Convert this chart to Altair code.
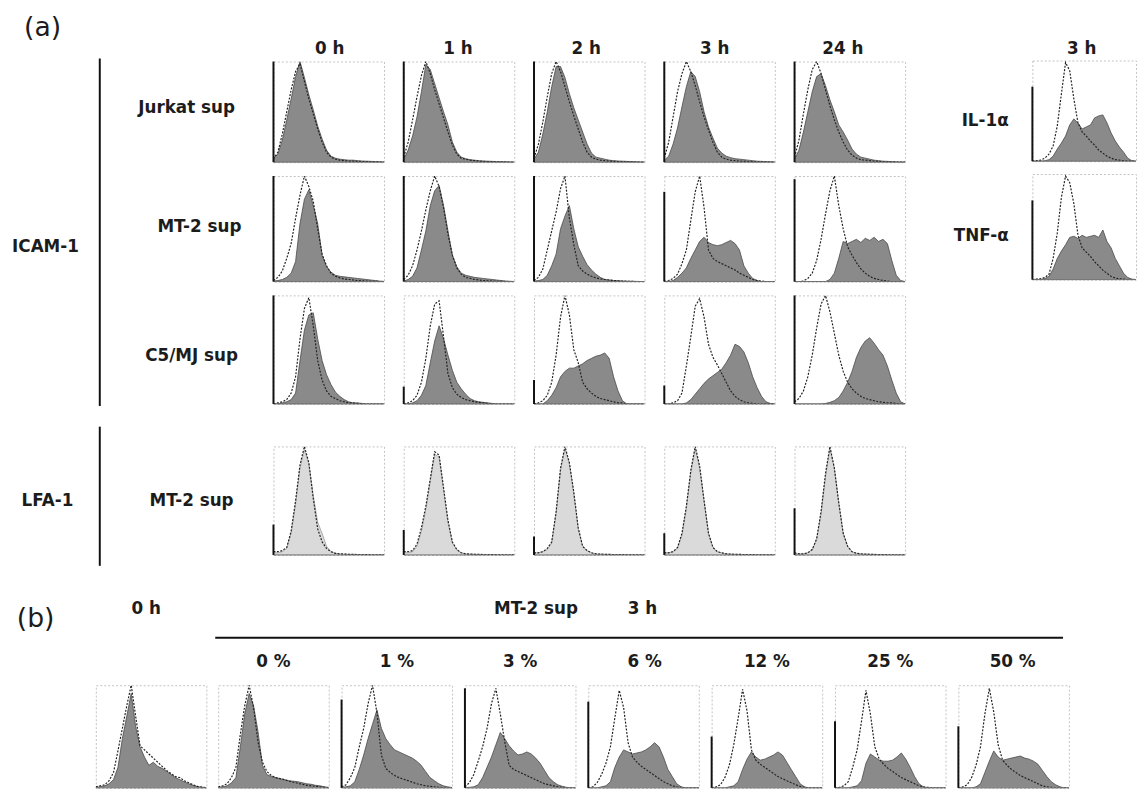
import altair as alt
import pandas as pd

# ---------------- data (fractions of panel height, 26 channels) ----------------
CH = list(range(26))

A_TIMES = ["0 h", "1 h", "2 h", "3 h", "24 h"]
B_DOSES = ["0 %", "1 %", "3 %", "6 %", "12 %", "25 %", "50 %"]

# Row 1: ICAM-1, Jurkat sup
J0_FILL = [0.04, 0.08, 0.22, 0.42, 0.63, 0.85, 1.0, 0.84, 0.67, 0.52, 0.36, 0.23, 0.12, 0.06, 0.04, 0.03, 0.025, 0.02, 0.02, 0.015, 0.012, 0.01, 0.008, 0.006, 0.004, 0.002]
J0_CTRL = [0.03, 0.1, 0.28, 0.5, 0.72, 0.9, 0.98, 0.8, 0.63, 0.48, 0.33, 0.2, 0.1, 0.05, 0.03, 0.02, 0.015, 0.012, 0.01, 0.008, 0.006, 0.005, 0.004, 0.003, 0.002, 0.001]
J1_FILL = [0.03, 0.12, 0.26, 0.45, 0.7, 0.97, 0.92, 0.78, 0.64, 0.5, 0.37, 0.2, 0.1, 0.05, 0.035, 0.025, 0.02, 0.015, 0.012, 0.01, 0.008, 0.006, 0.005, 0.004, 0.002, 0.001]
J1_CTRL = [0.05, 0.2, 0.42, 0.65, 0.86, 1.0, 0.88, 0.72, 0.58, 0.44, 0.3, 0.17, 0.08, 0.04, 0.03, 0.02, 0.015, 0.01, 0.008, 0.006, 0.005, 0.004, 0.003, 0.002, 0.001, 0.0]
J2_FILL = [0.03, 0.1, 0.28, 0.5, 0.75, 0.95, 0.95, 0.84, 0.68, 0.54, 0.42, 0.3, 0.18, 0.09, 0.05, 0.04, 0.03, 0.02, 0.015, 0.012, 0.01, 0.008, 0.006, 0.004, 0.002, 0.001]
J2_CTRL = [0.04, 0.18, 0.4, 0.65, 0.88, 1.0, 0.9, 0.75, 0.6, 0.46, 0.33, 0.2, 0.1, 0.05, 0.03, 0.02, 0.015, 0.01, 0.008, 0.006, 0.005, 0.004, 0.003, 0.002, 0.001, 0.0]
J3_FILL = [0.02, 0.06, 0.18, 0.34, 0.55, 0.75, 0.9, 0.85, 0.7, 0.5, 0.35, 0.24, 0.14, 0.09, 0.06, 0.045, 0.035, 0.03, 0.025, 0.02, 0.015, 0.01, 0.008, 0.006, 0.004, 0.002]
J3_CTRL = [0.04, 0.2, 0.45, 0.7, 0.88, 1.0, 0.9, 0.76, 0.6, 0.45, 0.32, 0.2, 0.1, 0.05, 0.03, 0.02, 0.015, 0.01, 0.008, 0.006, 0.005, 0.004, 0.003, 0.002, 0.001, 0.0]
J24_FILL = [0.03, 0.12, 0.3, 0.5, 0.7, 0.85, 0.88, 0.76, 0.62, 0.5, 0.37, 0.3, 0.22, 0.13, 0.08, 0.05, 0.04, 0.03, 0.02, 0.015, 0.01, 0.008, 0.005, 0.003, 0.002, 0.001]
J24_CTRL = [0.05, 0.22, 0.48, 0.72, 0.92, 1.0, 0.88, 0.72, 0.56, 0.42, 0.3, 0.2, 0.12, 0.07, 0.04, 0.025, 0.02, 0.015, 0.01, 0.008, 0.005, 0.004, 0.003, 0.002, 0.001, 0.0]

# Row 2: ICAM-1, MT-2 sup
M0_FILL = [0.005, 0.01, 0.02, 0.04, 0.08, 0.19, 0.55, 0.78, 0.87, 0.72, 0.55, 0.25, 0.14, 0.09, 0.06, 0.05, 0.045, 0.04, 0.035, 0.03, 0.025, 0.02, 0.015, 0.01, 0.005, 0.002]
M0_CTRL = [0.01, 0.04, 0.1, 0.22, 0.36, 0.6, 0.82, 1.0, 0.9, 0.76, 0.5, 0.26, 0.15, 0.08, 0.05, 0.035, 0.025, 0.02, 0.015, 0.01, 0.008, 0.005, 0.003, 0.002, 0.001, 0.0]
M1_FILL = [0.005, 0.02, 0.05, 0.13, 0.3, 0.48, 0.72, 0.86, 0.91, 0.72, 0.48, 0.25, 0.14, 0.08, 0.06, 0.05, 0.04, 0.035, 0.03, 0.025, 0.02, 0.015, 0.01, 0.006, 0.003, 0.001]
M1_CTRL = [0.02, 0.06, 0.15, 0.3, 0.48, 0.68, 0.86, 1.0, 0.9, 0.7, 0.45, 0.25, 0.13, 0.07, 0.04, 0.03, 0.02, 0.015, 0.01, 0.008, 0.005, 0.003, 0.002, 0.001, 0.0, 0.0]
M2_FILL = [0.005, 0.01, 0.02, 0.06, 0.15, 0.26, 0.5, 0.62, 0.72, 0.5, 0.33, 0.24, 0.16, 0.11, 0.07, 0.04, 0.02, 0.015, 0.01, 0.008, 0.006, 0.004, 0.003, 0.002, 0.001, 0.0]
M2_CTRL = [0.01, 0.04, 0.12, 0.3, 0.48, 0.66, 0.88, 1.0, 0.6, 0.35, 0.15, 0.1, 0.07, 0.05, 0.035, 0.025, 0.02, 0.015, 0.01, 0.008, 0.005, 0.003, 0.002, 0.001, 0.0, 0.0]
M3_FILL = [0.0, 0.0, 0.01, 0.04, 0.08, 0.13, 0.22, 0.3, 0.38, 0.42, 0.37, 0.35, 0.34, 0.35, 0.37, 0.39, 0.36, 0.3, 0.15, 0.08, 0.03, 0.01, 0.0, 0.0, 0.0, 0.0]
M3_CTRL = [0.0, 0.01, 0.03, 0.07, 0.17, 0.3, 0.58, 0.85, 1.0, 0.7, 0.3, 0.22, 0.19, 0.17, 0.15, 0.13, 0.11, 0.08, 0.06, 0.04, 0.02, 0.01, 0.005, 0.0, 0.0, 0.0]
M24_FILL = [0.0, 0.0, 0.0, 0.0, 0.0, 0.0, 0.0, 0.0, 0.02, 0.08, 0.22, 0.38, 0.36, 0.38, 0.4, 0.37, 0.41, 0.39, 0.42, 0.38, 0.4, 0.36, 0.2, 0.06, 0.01, 0.0]
M24_CTRL = [0.0, 0.0, 0.005, 0.03, 0.08, 0.2, 0.4, 0.64, 0.86, 1.0, 0.72, 0.5, 0.33, 0.25, 0.18, 0.12, 0.08, 0.05, 0.03, 0.02, 0.01, 0.005, 0.0, 0.0, 0.0, 0.0]

# Row 3: ICAM-1, C5/MJ sup
C0_FILL = [0.0, 0.0, 0.01, 0.02, 0.04, 0.1, 0.4, 0.68, 0.82, 0.84, 0.6, 0.4, 0.27, 0.18, 0.11, 0.07, 0.04, 0.02, 0.01, 0.01, 0.005, 0.0, 0.0, 0.0, 0.0, 0.0]
C0_CTRL = [0.0, 0.01, 0.02, 0.04, 0.1, 0.25, 0.6, 0.88, 0.98, 0.72, 0.4, 0.22, 0.12, 0.07, 0.05, 0.03, 0.02, 0.01, 0.01, 0.005, 0.0, 0.0, 0.0, 0.0, 0.0, 0.0]
C1_FILL = [0.0, 0.0, 0.01, 0.03, 0.08, 0.17, 0.38, 0.58, 0.72, 0.6, 0.45, 0.31, 0.2, 0.14, 0.09, 0.05, 0.03, 0.02, 0.015, 0.01, 0.005, 0.0, 0.0, 0.0, 0.0, 0.0]
C1_CTRL = [0.0, 0.01, 0.03, 0.08, 0.2, 0.42, 0.72, 0.92, 0.95, 0.62, 0.28, 0.15, 0.09, 0.06, 0.04, 0.03, 0.02, 0.015, 0.01, 0.005, 0.0, 0.0, 0.0, 0.0, 0.0, 0.0]
C2_FILL = [0.0, 0.0, 0.0, 0.03, 0.08, 0.15, 0.25, 0.3, 0.33, 0.33, 0.35, 0.37, 0.4, 0.42, 0.44, 0.45, 0.47, 0.42, 0.25, 0.12, 0.03, 0.0, 0.0, 0.0, 0.0, 0.0]
C2_CTRL = [0.0, 0.01, 0.03, 0.08, 0.2, 0.45, 0.8, 1.0, 0.82, 0.5, 0.38, 0.2, 0.14, 0.1, 0.07, 0.05, 0.04, 0.03, 0.02, 0.01, 0.01, 0.0, 0.0, 0.0, 0.0, 0.0]
C3_FILL = [0.0, 0.0, 0.0, 0.0, 0.0, 0.01, 0.04, 0.09, 0.14, 0.19, 0.23, 0.26, 0.29, 0.32, 0.38, 0.45, 0.55, 0.53, 0.48, 0.38, 0.25, 0.15, 0.07, 0.02, 0.005, 0.0]
C3_CTRL = [0.0, 0.0, 0.01, 0.03, 0.1, 0.35, 0.62, 0.9, 0.97, 0.8, 0.55, 0.43, 0.36, 0.28, 0.2, 0.12, 0.07, 0.04, 0.02, 0.01, 0.005, 0.0, 0.0, 0.0, 0.0, 0.0]
C24_FILL = [0.0, 0.0, 0.0, 0.0, 0.0, 0.0, 0.0, 0.005, 0.015, 0.03, 0.06, 0.12, 0.2, 0.3, 0.43, 0.52, 0.58, 0.61, 0.56, 0.5, 0.45, 0.35, 0.22, 0.1, 0.02, 0.0]
C24_CTRL = [0.02, 0.05, 0.12, 0.25, 0.45, 0.7, 0.92, 1.0, 0.85, 0.65, 0.45, 0.3, 0.2, 0.14, 0.1, 0.07, 0.05, 0.04, 0.03, 0.02, 0.015, 0.01, 0.01, 0.005, 0.0, 0.0]

# Row 4: LFA-1, MT-2 sup
L0_FILL = [0.02, 0.02, 0.03, 0.06, 0.2, 0.47, 0.8, 0.97, 0.84, 0.55, 0.3, 0.2, 0.08, 0.03, 0.015, 0.01, 0.008, 0.006, 0.005, 0.004, 0.003, 0.003, 0.002, 0.002, 0.001, 0.001]
L0_CTRL = [0.03, 0.03, 0.04, 0.07, 0.22, 0.5, 0.83, 1.0, 0.85, 0.52, 0.24, 0.12, 0.06, 0.03, 0.015, 0.01, 0.008, 0.006, 0.005, 0.004, 0.003, 0.003, 0.002, 0.002, 0.001, 0.001]
L1_FILL = [0.02, 0.02, 0.03, 0.08, 0.22, 0.42, 0.68, 0.93, 0.9, 0.6, 0.3, 0.11, 0.05, 0.02, 0.01, 0.008, 0.006, 0.005, 0.004, 0.003, 0.003, 0.002, 0.002, 0.001, 0.001, 0.0]
L1_CTRL = [0.03, 0.03, 0.04, 0.1, 0.25, 0.45, 0.7, 0.95, 0.92, 0.62, 0.32, 0.12, 0.05, 0.02, 0.01, 0.008, 0.006, 0.005, 0.004, 0.003, 0.003, 0.002, 0.002, 0.001, 0.001, 0.0]
L2_FILL = [0.02, 0.02, 0.03, 0.05, 0.11, 0.38, 0.78, 0.98, 0.84, 0.56, 0.24, 0.08, 0.04, 0.02, 0.01, 0.008, 0.006, 0.005, 0.004, 0.003, 0.003, 0.002, 0.002, 0.001, 0.001, 0.0]
L2_CTRL = [0.02, 0.02, 0.03, 0.06, 0.12, 0.4, 0.8, 1.0, 0.85, 0.58, 0.25, 0.08, 0.04, 0.02, 0.01, 0.008, 0.006, 0.005, 0.004, 0.003, 0.003, 0.002, 0.002, 0.001, 0.001, 0.0]
L3_FILL = [0.02, 0.02, 0.03, 0.06, 0.18, 0.43, 0.76, 0.98, 0.8, 0.5, 0.2, 0.07, 0.03, 0.02, 0.01, 0.008, 0.006, 0.005, 0.004, 0.003, 0.003, 0.002, 0.002, 0.001, 0.001, 0.0]
L3_CTRL = [0.02, 0.02, 0.03, 0.07, 0.2, 0.45, 0.78, 1.0, 0.82, 0.5, 0.2, 0.07, 0.03, 0.02, 0.01, 0.008, 0.006, 0.005, 0.004, 0.003, 0.003, 0.002, 0.002, 0.001, 0.001, 0.0]
L24_FILL = [0.01, 0.01, 0.01, 0.02, 0.05, 0.14, 0.38, 0.72, 0.98, 0.8, 0.48, 0.2, 0.08, 0.03, 0.015, 0.01, 0.008, 0.006, 0.005, 0.004, 0.003, 0.002, 0.002, 0.001, 0.001, 0.0]
L24_CTRL = [0.02, 0.01, 0.01, 0.02, 0.05, 0.15, 0.4, 0.75, 1.0, 0.8, 0.48, 0.2, 0.08, 0.03, 0.015, 0.01, 0.008, 0.006, 0.005, 0.004, 0.003, 0.002, 0.002, 0.001, 0.001, 0.0]

# Right column: 3 h cytokines
IL_FILL = [0.0, 0.0, 0.0, 0.005, 0.015, 0.05, 0.12, 0.18, 0.25, 0.36, 0.42, 0.38, 0.32, 0.34, 0.36, 0.43, 0.45, 0.46, 0.38, 0.28, 0.2, 0.14, 0.09, 0.03, 0.005, 0.0]
IL_CTRL = [0.0, 0.005, 0.01, 0.03, 0.07, 0.15, 0.35, 0.67, 0.98, 0.9, 0.62, 0.38, 0.29, 0.25, 0.2, 0.16, 0.11, 0.08, 0.05, 0.03, 0.015, 0.01, 0.005, 0.0, 0.0, 0.0]
TNF_FILL = [0.0, 0.0, 0.0, 0.01, 0.03, 0.1, 0.2, 0.27, 0.33, 0.4, 0.41, 0.39, 0.42, 0.4, 0.41, 0.42, 0.4, 0.47, 0.36, 0.3, 0.2, 0.13, 0.06, 0.02, 0.005, 0.0]
TNF_CTRL = [0.0, 0.005, 0.01, 0.02, 0.05, 0.2, 0.44, 0.78, 0.98, 0.92, 0.72, 0.42, 0.3, 0.26, 0.22, 0.17, 0.13, 0.09, 0.06, 0.03, 0.015, 0.008, 0.004, 0.0, 0.0, 0.0]

# Panel (b): 0 h and MT-2 sup 3 h at 0-50 %
B0_FILL = [0.005, 0.01, 0.02, 0.04, 0.08, 0.2, 0.48, 0.7, 0.92, 0.6, 0.4, 0.3, 0.22, 0.25, 0.21, 0.19, 0.16, 0.13, 0.1, 0.08, 0.06, 0.04, 0.025, 0.012, 0.006, 0.002]
B0_CTRL = [0.01, 0.02, 0.03, 0.07, 0.15, 0.36, 0.58, 0.8, 1.0, 0.7, 0.41, 0.37, 0.33, 0.29, 0.25, 0.21, 0.17, 0.14, 0.11, 0.1, 0.07, 0.05, 0.03, 0.015, 0.008, 0.003]
P0_FILL = [0.005, 0.01, 0.02, 0.05, 0.1, 0.4, 0.72, 0.92, 0.8, 0.55, 0.22, 0.13, 0.11, 0.1, 0.09, 0.08, 0.07, 0.065, 0.06, 0.05, 0.04, 0.035, 0.025, 0.02, 0.01, 0.005]
P0_CTRL = [0.01, 0.02, 0.04, 0.1, 0.2, 0.52, 0.8, 1.0, 0.78, 0.45, 0.25, 0.16, 0.12, 0.1, 0.09, 0.08, 0.065, 0.055, 0.045, 0.035, 0.025, 0.02, 0.015, 0.01, 0.005, 0.002]
P1_FILL = [0.005, 0.01, 0.02, 0.06, 0.18, 0.32, 0.48, 0.62, 0.76, 0.58, 0.48, 0.42, 0.37, 0.35, 0.33, 0.31, 0.29, 0.26, 0.22, 0.16, 0.1, 0.07, 0.04, 0.02, 0.01, 0.003]
P1_CTRL = [0.01, 0.03, 0.1, 0.2, 0.4, 0.58, 0.82, 1.0, 0.73, 0.32, 0.19, 0.15, 0.12, 0.1, 0.085, 0.07, 0.055, 0.04, 0.03, 0.02, 0.015, 0.01, 0.005, 0.003, 0.001, 0.0]
P3_FILL = [0.0, 0.005, 0.01, 0.03, 0.1, 0.2, 0.3, 0.42, 0.54, 0.48, 0.41, 0.36, 0.32, 0.33, 0.35, 0.33, 0.29, 0.24, 0.17, 0.1, 0.06, 0.03, 0.015, 0.005, 0.0, 0.0]
P3_CTRL = [0.01, 0.05, 0.13, 0.26, 0.4, 0.58, 0.82, 0.97, 0.72, 0.45, 0.22, 0.18, 0.16, 0.14, 0.12, 0.1, 0.08, 0.06, 0.04, 0.03, 0.02, 0.01, 0.005, 0.002, 0.0, 0.0]
P6_FILL = [0.0, 0.0, 0.0, 0.01, 0.02, 0.06, 0.2, 0.3, 0.37, 0.35, 0.33, 0.34, 0.35, 0.37, 0.4, 0.44, 0.4, 0.3, 0.18, 0.11, 0.04, 0.01, 0.0, 0.0, 0.0, 0.0]
P6_CTRL = [0.0, 0.01, 0.05, 0.13, 0.24, 0.4, 0.68, 0.95, 0.78, 0.44, 0.3, 0.25, 0.21, 0.18, 0.15, 0.12, 0.09, 0.06, 0.04, 0.02, 0.01, 0.005, 0.0, 0.0, 0.0, 0.0]
P12_FILL = [0.0, 0.0, 0.0, 0.0, 0.01, 0.02, 0.06, 0.18, 0.28, 0.35, 0.3, 0.27, 0.28, 0.3, 0.32, 0.35, 0.32, 0.25, 0.18, 0.11, 0.04, 0.01, 0.0, 0.0, 0.0, 0.0]
P12_CTRL = [0.0, 0.01, 0.03, 0.1, 0.22, 0.42, 0.68, 0.96, 0.75, 0.37, 0.27, 0.23, 0.2, 0.17, 0.14, 0.11, 0.09, 0.07, 0.05, 0.03, 0.015, 0.005, 0.0, 0.0, 0.0, 0.0]
P25_FILL = [0.0, 0.0, 0.0, 0.0, 0.01, 0.02, 0.07, 0.24, 0.33, 0.3, 0.27, 0.26, 0.26, 0.27, 0.3, 0.34, 0.28, 0.2, 0.11, 0.04, 0.01, 0.0, 0.0, 0.0, 0.0, 0.0]
P25_CTRL = [0.0, 0.005, 0.02, 0.06, 0.2, 0.37, 0.65, 0.95, 0.72, 0.4, 0.28, 0.23, 0.19, 0.16, 0.13, 0.1, 0.08, 0.06, 0.04, 0.02, 0.01, 0.005, 0.0, 0.0, 0.0, 0.0]
P50_FILL = [0.0, 0.0, 0.0, 0.0, 0.01, 0.04, 0.15, 0.26, 0.36, 0.3, 0.27, 0.28, 0.29, 0.3, 0.31, 0.29, 0.28, 0.26, 0.23, 0.17, 0.11, 0.06, 0.03, 0.01, 0.0, 0.0]
P50_CTRL = [0.0, 0.01, 0.03, 0.1, 0.22, 0.4, 0.72, 0.97, 0.74, 0.42, 0.27, 0.22, 0.18, 0.15, 0.12, 0.1, 0.08, 0.06, 0.04, 0.02, 0.01, 0.005, 0.0, 0.0, 0.0, 0.0]

# off-scale events piled in channel 0 (the dark line at each panel's left edge)
SPIKE_JURKAT = [1.0, 1.0, 1.0, 1.0, 1.0]
SPIKE_MT2 = [1.0, 1.0, 1.0, 0.85, 0.97]
SPIKE_C5MJ = [1.0, 0.16, 0.22, 0.17, 1.0]
SPIKE_LFA = [0.28, 0.23, 0.17, 0.2, 0.43]
SPIKE_CYTO = [0.74, 0.75]
SPIKE_B = [0.0, 0.0, 0.86, 0.97, 0.84, 0.5, 0.65, 0.6]

# ---------------- styling helpers ----------------
FONT = "DejaVu Sans"
INK = "#1c1c1c"
XS = alt.Scale(domain=[CH[0], CH[-1]], nice=False, zero=False)
YS = alt.Scale(domain=[0, 1], nice=False)
ONE = pd.DataFrame({"k": [0]})
BASE = pd.DataFrame({"ch": [CH[0]], "ch2": [CH[-1]], "y": [0.0]})


def panel(fill, ctrl, spike, w, h, light=False):
    df = pd.DataFrame({"ch": CH, "fill": fill, "ctrl": ctrl})
    x = alt.X("ch:Q", scale=XS, axis=None)
    area = alt.Chart(df).mark_area(
        color="#dadada" if light else "#8a8a8a", opacity=1, clip=True,
        line={"color": "#9c9c9c" if light else "#4a4a4a", "strokeWidth": 0.8},
    ).encode(x=x, y=alt.Y("fill:Q", scale=YS, axis=None))
    line = alt.Chart(df).mark_line(
        color="#222222", strokeWidth=1.2, strokeDash=[2, 1.5], clip=True
    ).encode(x=x, y=alt.Y("ctrl:Q", scale=YS, axis=None))
    base = alt.Chart(BASE).mark_rule(color="#6a6a6a", strokeWidth=1).encode(
        x=x, x2="ch2:Q", y=alt.Y("y:Q", scale=YS, axis=None))
    layers = [area, line, base]
    if spike > 0:
        sdf = pd.DataFrame({"ch": [CH[0]], "lo": [0.0], "hi": [spike]})
        layers.append(
            alt.Chart(sdf).mark_rule(color="#111111", strokeWidth=2).encode(
                x=x, y=alt.Y("lo:Q", scale=YS, axis=None), y2="hi:Q"))
    return alt.layer(*layers).properties(width=w, height=h)


def label(text, x, y, size=17, weight="bold", align="center", baseline="middle"):
    return alt.Chart(ONE).mark_text(
        text=text, font=FONT, fontSize=size, fontWeight=weight, color=INK,
        align=align, baseline=baseline,
    ).encode(x=alt.value(x), y=alt.value(y))


def vline(x, y1, y2):
    return alt.Chart(ONE).mark_rule(color="#111111", strokeWidth=2).encode(
        x=alt.value(x), y=alt.value(y1), y2=alt.value(y2))


def hline(x1, x2, y):
    return alt.Chart(ONE).mark_rule(color="#111111", strokeWidth=2).encode(
        x=alt.value(x1), x2=alt.value(x2), y=alt.value(y))


def canvas(layers, w, h):
    return alt.layer(*layers).properties(
        width=w, height=h, view=alt.ViewBackground(stroke="transparent"))


PW = 112     # panel width
GAP_A = 17   # gap between panels in (a)
GAP_B = 10   # gap between panels in (b)

# ---------------- part (a) ----------------
row1 = alt.hconcat(*[
    panel(f, c, s, PW, 102) for f, c, s in zip(
        [J0_FILL, J1_FILL, J2_FILL, J3_FILL, J24_FILL],
        [J0_CTRL, J1_CTRL, J2_CTRL, J3_CTRL, J24_CTRL], SPIKE_JURKAT)
], spacing=GAP_A)
row2 = alt.hconcat(*[
    panel(f, c, s, PW, 107) for f, c, s in zip(
        [M0_FILL, M1_FILL, M2_FILL, M3_FILL, M24_FILL],
        [M0_CTRL, M1_CTRL, M2_CTRL, M3_CTRL, M24_CTRL], SPIKE_MT2)
], spacing=GAP_A)
row3 = alt.hconcat(*[
    panel(f, c, s, PW, 110) for f, c, s in zip(
        [C0_FILL, C1_FILL, C2_FILL, C3_FILL, C24_FILL],
        [C0_CTRL, C1_CTRL, C2_CTRL, C3_CTRL, C24_CTRL], SPIKE_C5MJ)
], spacing=GAP_A)
row4 = alt.hconcat(*[
    panel(f, c, s, PW, 110, light=True) for f, c, s in zip(
        [L0_FILL, L1_FILL, L2_FILL, L3_FILL, L24_FILL],
        [L0_CTRL, L1_CTRL, L2_CTRL, L3_CTRL, L24_CTRL], SPIKE_LFA)
], spacing=GAP_A)

headA = canvas([label(t, i * (PW + GAP_A + 1) + PW / 2 + 1, 35) for i, t in enumerate(A_TIMES)],
               5 * PW + 4 * GAP_A, 43)
bodyA = alt.vconcat(alt.vconcat(row1, row2, row3, spacing=10), row4, spacing=40)
gridA = alt.vconcat(headA, bodyA, spacing=2)

leftA = canvas([
    label("(a)", 34, 1, size=27, weight="normal", baseline="top"),
    label("ICAM-1", 37, 236),
    vline(92, 45, 397),
    label("LFA-1", 39, 493),
    vline(92, 418, 559),
    label("Jurkat sup", 180, 95),
    label("MT-2 sup", 193, 216),
    label("C5/MJ sup", 185, 346),
    label("MT-2 sup", 185, 493),
], 255, 548)

rightLbl = canvas([
    label("IL-1\u03b1", 93, 108, align="right"),
    label("TNF-\u03b1", 93, 225, align="right"),
], 104, 300)

headR = canvas([label("3 h", 50, 35)], 105, 43)
rightPanels = alt.vconcat(
    headR,
    alt.vconcat(
        panel(IL_FILL, IL_CTRL, SPIKE_CYTO[0], 105, 102),
        panel(TNF_FILL, TNF_CTRL, SPIKE_CYTO[1], 105, 107),
        spacing=10),
    spacing=2,
)

partA = alt.hconcat(leftA, gridA, rightLbl, rightPanels, spacing=10)

# ---------------- part (b) ----------------
DOSE_X = [268, 393, 518, 644, 768, 893, 1017]
headB = canvas(
    [label("(b)", 27, 22, size=27, weight="normal"),
     label("0 h", 139, 12),
     label("MT-2 sup", 534, 12),
     label("3 h", 642, 12),
     hline(209, 1068, 41)]
    + [label(t, cx, 66) for t, cx in zip(B_DOSES, DOSE_X)],
    1075, 87)
spacerB = canvas([label(" ", 10, 20)], 76, 104)
panelsB = alt.hconcat(
    spacerB,
    *[panel(f, c, s, PW, 104) for f, c, s in zip(
        [B0_FILL, P0_FILL, P1_FILL, P3_FILL, P6_FILL, P12_FILL, P25_FILL, P50_FILL],
        [B0_CTRL, P0_CTRL, P1_CTRL, P3_CTRL, P6_CTRL, P12_CTRL, P25_CTRL, P50_CTRL],
        SPIKE_B)],
    spacing=GAP_B,
)
partB = alt.vconcat(headB, panelsB, spacing=0)

chart = alt.vconcat(partA, partB, spacing=29).properties(padding=0).configure_view(
    stroke="#c2c2c2", strokeDash=[2, 2], strokeWidth=1)

chart.save("out.html", embed_options={"renderer": "svg", "actions": False})
